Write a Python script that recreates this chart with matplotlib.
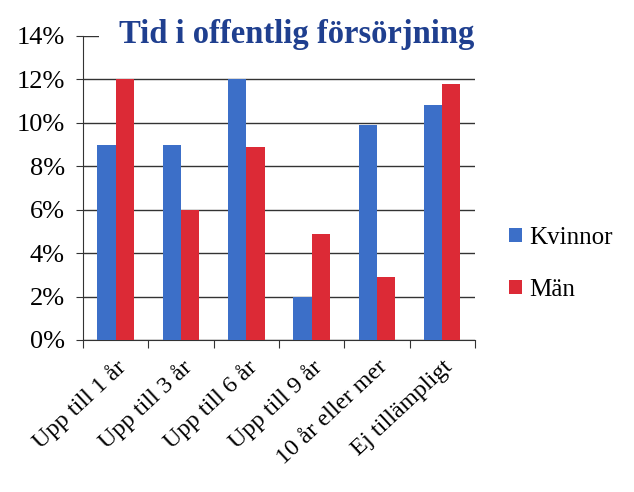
import matplotlib.pyplot as plt
import numpy as np

categories = ['Upp till 1 år', 'Upp till 3 år', 'Upp till 6 år', 'Upp till 9 år',
              '10 år eller mer', 'Ej tillämpligt']
kvinnor = [9.0, 9.0, 12.0, 2.0, 9.9, 10.8]
man = [12.0, 6.0, 8.9, 4.9, 2.9, 11.8]

plt.rcParams['font.family'] = ['Liberation Serif', 'DejaVu Serif']

fig = plt.figure(figsize=(6.34, 4.92), dpi=100)
ax = fig.add_axes([0.131, 0.309, 0.618, 0.618])

x = np.arange(len(categories))
w = 0.28
ax.bar(x - w / 2, kvinnor, w, color='#3c6fc8', label='Kvinnor', zorder=3)
ax.bar(x + w / 2, man, w, color='#dc2a36', label='Män', zorder=3)

ax.set_xlim(-0.5, len(categories) - 0.5)
ax.set_ylim(0, 14)
ax.set_yticks(range(0, 15, 2))
ax.set_yticklabels([f'{v}%' for v in range(0, 15, 2)], fontsize=19)
ax.yaxis.grid(True, color='#333333', linewidth=1.0, zorder=0)

ax.set_xticks(np.arange(-0.5, len(categories), 1))
ax.set_xticklabels([])
ax.set_xticks(x, minor=True)
ax.set_xticklabels(categories, minor=True, rotation=43, ha='right',
                   rotation_mode='anchor', fontsize=17.5)
ax.tick_params(axis='x', which='minor', length=0, pad=12)
ax.tick_params(axis='x', which='major', length=6, color='#333333')
ax.tick_params(axis='y', length=5, color='#333333', pad=8)

for s in ['top', 'right']:
    ax.spines[s].set_visible(False)
for s in ['left', 'bottom']:
    ax.spines[s].set_color('#333333')

# title box hides the top gridline, as in the original
fig.text(0.468, 0.898, 'Tid i offentlig försörjning', fontsize=23.5, fontweight='bold',
         color='#1f3f8f', ha='center', va='bottom', zorder=5,
         bbox=dict(facecolor='white', edgecolor='none', pad=14))

ax.legend(loc='center left', bbox_to_anchor=(1.03, 0.25), frameon=False,
          fontsize=18, handlelength=0.5, handleheight=0.5, handletextpad=0.3,
          labelspacing=1.2)

fig.savefig('out.png', dpi=100)
